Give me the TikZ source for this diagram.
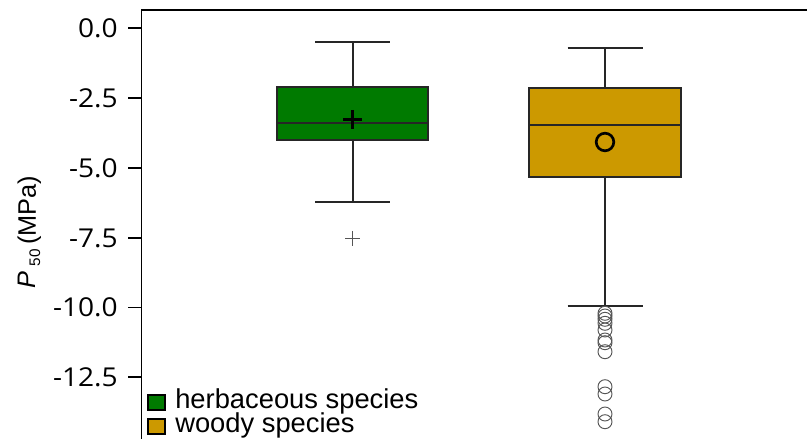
\documentclass[tikz,border=0pt]{standalone}
\usepackage{fontspec}
\setmainfont{Liberation Sans}
\newfontfamily\tickfont{Open Sans}
\definecolor{herbgreen}{RGB}{0,122,0}
\definecolor{woodgold}{RGB}{204,153,0}
\definecolor{outgray}{RGB}{85,85,85}
\begin{document}
\begin{tikzpicture}[x=0.75pt,y=-0.75pt,
  axisline/.style={line width=1.3pt,black},
  boxline/.style={line width=1.5pt,draw=black!85},
  whisk/.style={line width=1.5pt,black!85},
  ticklab/.style={anchor=east,inner sep=0pt,font=\tickfont\fontsize{19.5}{20}\selectfont},
  legtext/.style={anchor=base west,inner sep=0pt,text height=11pt,text depth=3pt,font=\fontsize{20.5}{22}\selectfont},
  outlier/.style={line width=0.7pt,draw=outgray},
  legbox/.style={line width=1.5pt,draw=black}]
\useasboundingbox (0,0) rectangle (807,439);
\fill[white] (0,0) rectangle (807,439);
% axes
\draw[axisline] (141.5,439) -- (141.5,10) -- (807,10);
\foreach \v/\y in {0.0/28,-2.5/98,-5.0/168,-7.5/238,-10.0/307.5,-12.5/377}{
  \draw[axisline] (128,\y) -- (141.5,\y);
  \node[ticklab] (t\y) at (118,\y) {\scalebox{1.08}[1]{\v}};
}
% y label
\node[rotate=90,anchor=base west,inner sep=0pt,font=\fontsize{19}{20}\selectfont] (ylab) at (36,289)
  {\textit{P}\kern4pt\raisebox{-3pt}{\fontsize{11.5}{11.5}\selectfont 50}\kern3.5pt(MPa)};
% herbaceous
\draw[whisk] (352.7,42.3) -- (352.7,201.7);
\draw[whisk] (315,42.3) -- (390,42.3);
\draw[whisk] (315,201.7) -- (390,201.7);
\filldraw[boxline,fill=herbgreen] (276.7,86.7) rectangle (428.3,139.7);
\draw[whisk] (276.7,123) -- (428.3,123);
\draw[line width=2pt,black] (343.2,119.3) -- (362.2,119.3) (352.7,109.8) -- (352.7,128.8);
\draw[outlier] (345.2,238.3) -- (360.2,238.3) (352.7,230.8) -- (352.7,245.8);
% woody
\draw[whisk] (605,47.7) -- (605,306);
\draw[whisk] (567.5,47.7) -- (642.7,47.7);
\draw[whisk] (567.5,306) -- (642.7,306);
\filldraw[boxline,fill=woodgold] (529,88.3) rectangle (681,177);
\draw[whisk] (529,125.3) -- (681,125.3);
\draw[line width=2pt,black] (605,142) circle[radius=8.8];
\foreach \y in {313.3,316,319.3,323.3,330,340,342.7,351.7,386.7,394,414,421.7}{
  \draw[outlier] (605,\y) circle[radius=7];
}
% legend
\filldraw[legbox,fill=herbgreen] (147.8,394.5) rectangle (164.8,410);
\filldraw[legbox,fill=woodgold] (147.8,418.5) rectangle (164.8,434);
\node[legtext] (l1) at (175,408.5) {herbaceous species};
\node[legtext] (l2) at (175,432.5) {woody species};
\end{tikzpicture}
\end{document}
